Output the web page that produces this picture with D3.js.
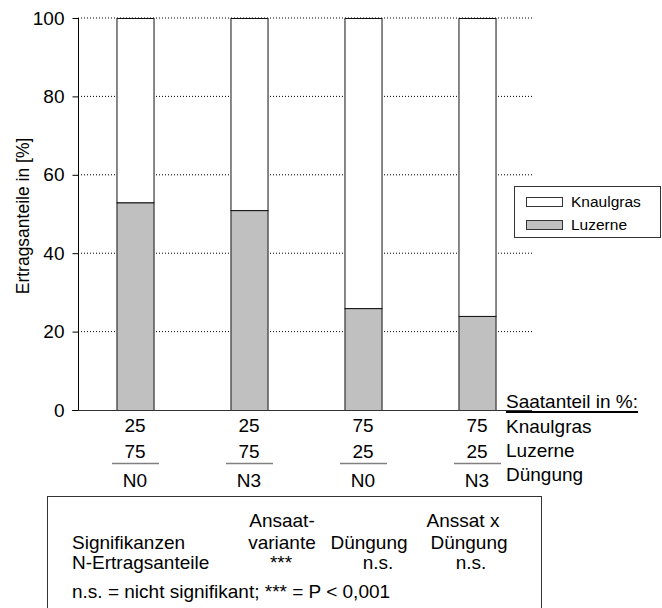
<!DOCTYPE html>
<html>
<head>
<meta charset="utf-8">
<script src="https://cdn.jsdelivr.net/npm/d3@7"></script>
<style>
  html, body { margin: 0; padding: 0; background: #fff; }
  svg { display: block; font-family: "Liberation Sans", Arial, sans-serif; }
</style>
</head>
<body>
<svg id="chart" width="662" height="608"></svg>
<script>
// Treatments: sown share of Knaulgras / Luzerne and N fertilisation level
const treatments = ["A", "B", "C", "D"];
const seedKnaulgras = ["25", "25", "75", "75"];
const seedLuzerne = ["75", "75", "25", "25"];
const fertilisation = ["N0", "N3", "N0", "N3"];

// Yield shares in %
const luzerneShare = [53, 51, 26, 24];
const knaulgrasShare = [47, 49, 74, 76];

const seriesNames = ["Luzerne", "Knaulgras"];
const seriesColors = ["#c0c0c0", "#ffffff"];
const yTicks = [0, 20, 40, 60, 80, 100];

const svg = d3.select("#chart");

const x = d3.scaleBand()
  .domain(treatments)
  .range([78, 534])
  .paddingInner(0.675)
  .paddingOuter(0.3375);

const y = d3.scaleLinear().domain([0, 100]).range([410, 18]);

// dotted grid lines
svg.append("g")
  .selectAll("line")
  .data(yTicks.filter(d => d > 0))
  .join("line")
  .attr("x1", 78).attr("x2", 532)
  .attr("y1", d => y(d)).attr("y2", d => y(d))
  .attr("stroke", "#000")
  .attr("stroke-width", 1)
  .attr("stroke-dasharray", "1,2");

// stacked bars
const rows = treatments.map((t, i) => ({ t, Luzerne: luzerneShare[i], Knaulgras: knaulgrasShare[i] }));
const stacked = d3.stack().keys(seriesNames)(rows);

svg.append("g")
  .selectAll("g")
  .data(stacked)
  .join("g")
  .attr("fill", (d, i) => seriesColors[i])
  .selectAll("rect")
  .data(d => d)
  .join("rect")
  .attr("x", d => x(d.data.t) + 0.5)
  .attr("y", d => y(d[1]) + 0.5)
  .attr("width", x.bandwidth())
  .attr("height", d => y(d[0]) - y(d[1]))
  .attr("stroke", "#111")
  .attr("stroke-width", 1);

// baseline
svg.append("line")
  .attr("x1", 72).attr("x2", 532)
  .attr("y1", y(0) + 0.5).attr("y2", y(0) + 0.5)
  .attr("stroke", "#333").attr("stroke-width", 1.2);

// y axis
const yAxis = d3.axisLeft(y).tickValues(yTicks).tickSize(6).tickPadding(8);
const ya = svg.append("g").attr("transform", "translate(78.5,0)").call(yAxis);
ya.select(".domain").attr("stroke", "#000").attr("d", `M-0,${y(100)}V${y(0)}`);
ya.selectAll(".tick line").attr("stroke", "#000");
ya.selectAll(".tick text")
  .attr("font-size", 19)
  .attr("fill", "#000")
  .attr("font-family", "Liberation Sans, Arial, sans-serif");

svg.append("text")
  .attr("transform", `translate(29,${(y(0) + y(100)) / 2 + 2}) rotate(-90)`)
  .attr("text-anchor", "middle")
  .attr("font-size", 17.5)
  .text("Ertragsanteile in [%]");

// treatment labels under the bars
const lab = svg.append("g").attr("font-size", 19).attr("text-anchor", "middle");
const cx = t => x(t) + x.bandwidth() / 2;
lab.selectAll(".k").data(treatments).join("text")
  .attr("x", cx).attr("y", 432).text((d, i) => seedKnaulgras[i]);
lab.selectAll(".l").data(treatments).join("text")
  .attr("x", cx).attr("y", 458).text((d, i) => seedLuzerne[i]);
lab.selectAll(".n").data(treatments).join("text")
  .attr("x", cx).attr("y", 487).text((d, i) => fertilisation[i]);
svg.append("g").selectAll("line").data(treatments).join("line")
  .attr("x1", d => cx(d) - 23).attr("x2", d => cx(d) + 24)
  .attr("y1", 463.5).attr("y2", 463.5)
  .attr("stroke", "#808080").attr("stroke-width", 1.5);

// row captions on the right
const cap = svg.append("g").attr("font-size", 19);
cap.append("text").attr("x", 506).attr("y", 408).text("Saatanteil in %:");
cap.append("line").attr("x1", 506).attr("x2", 638).attr("y1", 412).attr("y2", 412)
  .attr("stroke", "#000").attr("stroke-width", 2);
cap.append("text").attr("x", 506).attr("y", 432.5).text("Knaulgras");
cap.append("text").attr("x", 506).attr("y", 456.5).text("Luzerne");
cap.append("text").attr("x", 506).attr("y", 481).text("Düngung");

// legend
const legendNames = ["Knaulgras", "Luzerne"];
const legendColors = ["#ffffff", "#c0c0c0"];
const leg = svg.append("g");
leg.append("rect").attr("x", 514.5).attr("y", 186.5).attr("width", 146).attr("height", 51)
  .attr("fill", "#fff").attr("stroke", "#333");
const li = leg.selectAll("g").data(legendNames).join("g")
  .attr("transform", (d, i) => `translate(0,${i * 23})`);
li.append("rect").attr("x", 526.5).attr("y", 197.5).attr("width", 36).attr("height", 9)
  .attr("fill", (d, i) => legendColors[i]).attr("stroke", "#333");
li.append("text").attr("x", 571).attr("y", 207).attr("font-size", 15.5).text(d => d);

// significance table
const tb = svg.append("g").attr("font-size", 19);
tb.append("rect").attr("x", 47.5).attr("y", 496.5).attr("width", 494).attr("height", 130)
  .attr("fill", "none").attr("stroke", "#333");
tb.append("text").attr("x", 72).attr("y", 549).text("Signifikanzen");
tb.append("text").attr("x", 72).attr("y", 569).text("N-Ertragsanteile");
const mid = (t, xx, yy) => tb.append("text").attr("x", xx).attr("y", yy).attr("text-anchor", "middle").text(t);
mid("Ansaat-", 282, 527);
mid("variante", 282, 549);
mid("***", 281, 569);
mid("Düngung", 369, 549);
mid("n.s.", 378, 569);
mid("Anssat x", 463, 527);
mid("Düngung", 469, 549);
mid("n.s.", 471, 569);
tb.append("text").attr("x", 72).attr("y", 598).text("n.s. = nicht signifikant; *** = P < 0,001");
</script>
</body>
</html>
